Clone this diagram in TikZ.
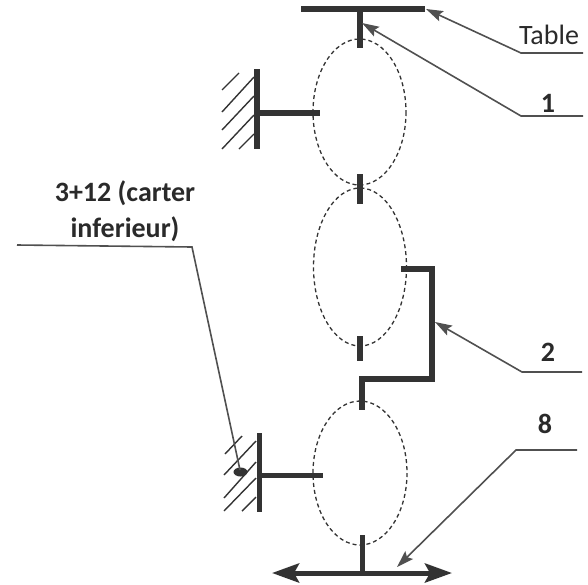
\documentclass[tikz,border=0pt]{standalone}
\usepackage{fontspec}
\setmainfont{Carlito}
\usetikzlibrary{arrows.meta}
\definecolor{ink}{HTML}{333333}
\definecolor{lead}{HTML}{505050}
\definecolor{txt}{HTML}{2A2A2A}
\tikzset{
  thick bar/.style={draw=ink,line width=5.6pt},
  mid bar/.style={draw=ink,line width=5pt},
  joint/.style={draw=ink,line width=1.3pt,dash pattern=on 4pt off 3pt},
  hatch/.style={draw=ink,line width=1.4pt},
  leader/.style={draw=lead,line width=1.6pt},
  leadtip/.style={-{Stealth[length=17pt,width=11pt,inset=3pt]}},
  lab/.style={text=txt,font=\fontsize{28}{36}\selectfont,inner sep=0pt},
  blab/.style={lab,font=\bfseries\fontsize{28}{36}\selectfont},
}
\begin{document}
\begin{tikzpicture}[x=1pt,y=-1pt]
\useasboundingbox (0,0) rectangle (588,584);
% joints
\draw[joint] (359.5,112) ellipse [x radius=46.5,y radius=73];
\draw[joint] (360,267) ellipse [x radius=46.5,y radius=79];
\draw[joint] (360,473) ellipse [x radius=47,y radius=72];
% table
\coordinate (tabL) at (301,9);
\coordinate (tabR) at (425,9);
\coordinate (stemA) at (360,9);
\coordinate (stemB) at (360,48);
\draw[thick bar] (tabL) -- (tabR);
\draw[thick bar] (stemA) -- (stemB);
% ground 1
\coordinate (g1a) at (257,69);
\coordinate (g1b) at (257,149);
\coordinate (g1m) at (257,113);
\coordinate (g1e) at (320,113);
\draw[thick bar] (g1a) -- (g1b);
\draw[thick bar] (g1m) -- (g1e);
\foreach \xa/\ya/\xb/\yb in {222/90/239/73,222/112/254/77,222/130/254/96,222/149/254/115,239/149/254/134}
  \draw[hatch] (\xa,\ya) -- (\xb,\yb);
% ticks
\draw[thick bar] (360,174) -- (360,204);
\draw[thick bar] (360,336) -- (360,361);
% crank 2
\coordinate (c1) at (401,269);
\coordinate (c2) at (432,269);
\coordinate (c3) at (432,379);
\coordinate (c4) at (362,379);
\coordinate (c5) at (362,410);
\draw[thick bar,line join=miter] (c1) -- (c2) -- (c3) -- (c4) -- (c5);
% ground 3
\coordinate (g3a) at (259.5,433);
\coordinate (g3b) at (259.5,512);
\coordinate (g3m) at (259.5,475);
\coordinate (g3e) at (323,475);
\draw[thick bar] (g3a) -- (g3b);
\draw[mid bar] (g3m) -- (g3e);
\foreach \xa/\ya/\xb/\yb in {225/454/242/436,224/475/256/441,224/498/256/462,224/511/256/478,242/511/256/497}
  \draw[hatch] (\xa,\ya) -- (\xb,\yb);
\fill[ink] (240.5,472) ellipse [x radius=7,y radius=4.5];
% output 8
\coordinate (o1) at (362,535);
\coordinate (o2) at (362,573);
\coordinate (oL) at (272,573);
\coordinate (oR) at (452,573);
\draw[mid bar] (o1) -- (o2);
\draw[mid bar,{Stealth[length=27pt,width=19pt,inset=5pt]}-{Stealth[length=27pt,width=19pt,inset=5pt]}] (oL) -- (oR);
% labels
\node[lab] (ltable) at (549,35) {Table};
\node[blab] (l1) at (548,103) {1};
\node[blab] (l2) at (548,352) {2};
\node[blab] (l8) at (545,424) {8};
\node[blab,align=center,anchor=center] (l3) at (125,211) {3+12 (carter\\inferieur)};
% leaders
\coordinate (a1) at (583,53); \coordinate (a2) at (521,53); \coordinate (a3) at (426,9);
\draw[leader,leadtip] (a1) -- (a2) -- (a3);
\coordinate (b1) at (583,116); \coordinate (b2) at (521,116); \coordinate (b3) at (362,23);
\draw[leader,leadtip] (b1) -- (b2) -- (b3);
\coordinate (d1) at (582,372); \coordinate (d2) at (522,372); \coordinate (d3) at (435,322);
\draw[leader,leadtip] (d1) -- (d2) -- (d3);
\coordinate (e1) at (577,450); \coordinate (e2) at (516,450); \coordinate (e3) at (397,567);
\draw[leader,leadtip] (e1) -- (e2) -- (e3);
\coordinate (f1) at (17,245); \coordinate (f2) at (192,247); \coordinate (f3) at (240,470);
\draw[leader] (f1) -- (f2) -- (f3);
\end{tikzpicture}
\end{document}
